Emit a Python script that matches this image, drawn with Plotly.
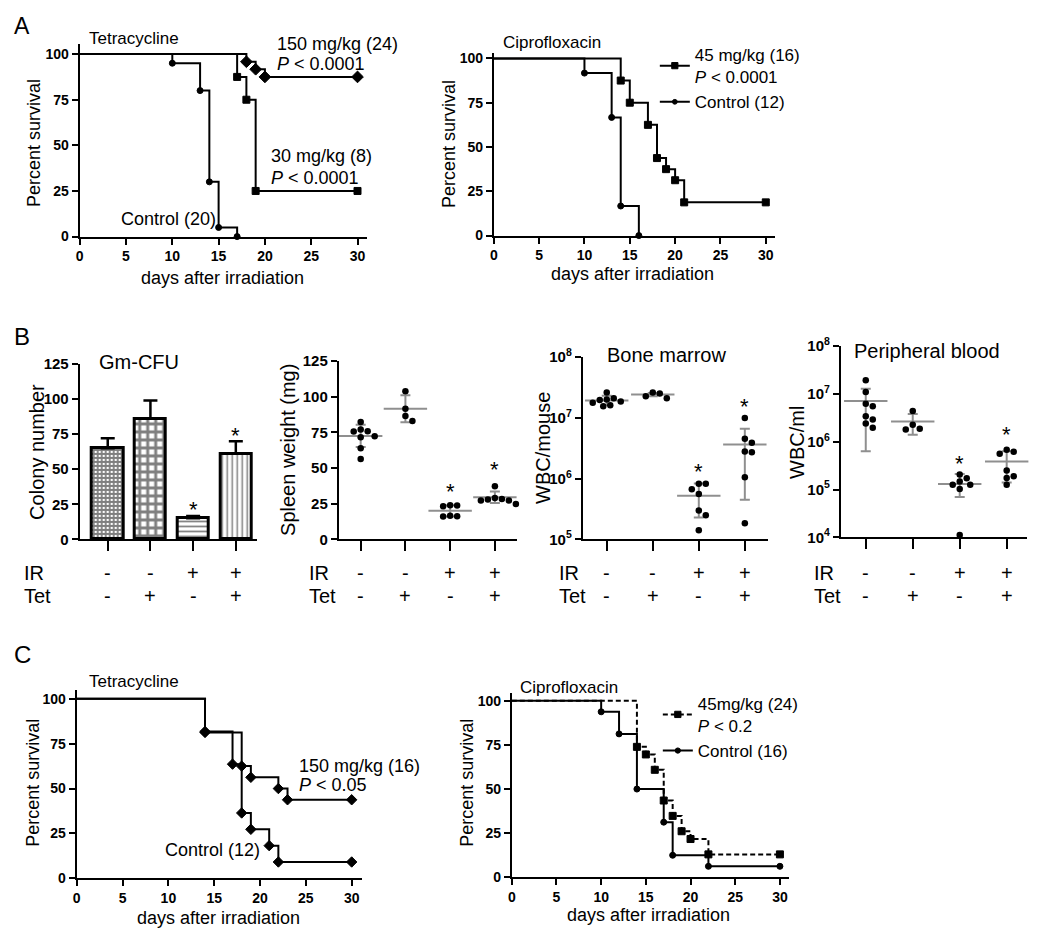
import numpy as np
import plotly.graph_objects as go

W, H = 1050, 934
FONT = "Liberation Sans"
GRAY = "#8f8f8f"

# ---------------- data ----------------
# Panel A – Tetracycline (Kaplan-Meier steps: event day, survival after event)
a_tet150_days = [18, 19, 20, 30]
a_tet150_surv = [95.8, 91.7, 87.5, 87.5]
a_tet30_days = [17, 18, 19, 30]
a_tet30_surv = [87.5, 75.0, 25.0, 25.0]
a_tetctl_days = [10, 13, 14, 15, 17]
a_tetctl_surv = [95.0, 80.0, 30.0, 5.0, 0.0]
# Panel A – Ciprofloxacin
a_cip45_days = [14, 15, 17, 18, 19, 20, 21, 30]
a_cip45_surv = [87.5, 75.0, 62.5, 43.75, 37.5, 31.25, 18.75, 18.75]
a_cipctl_days = [10, 13, 14, 16]
a_cipctl_surv = [91.7, 66.7, 16.7, 0.0]
# Panel C – Tetracycline
c_tet150_days = [14, 18, 19, 22, 23, 30]
c_tet150_surv = [81.25, 62.5, 56.25, 50.0, 43.75, 43.75]
c_tetctl_days = [14, 17, 18, 19, 21, 22, 30]
c_tetctl_surv = [81.8, 63.6, 36.4, 27.3, 18.2, 9.1, 9.1]
# Panel C – Ciprofloxacin
c_cip45_days = [14, 15, 16, 17, 18, 19, 20, 22, 30]
c_cip45_surv = [73.9, 69.6, 60.9, 43.5, 34.8, 26.1, 21.7, 13.0, 13.0]
c_cipctl_days = [10, 12, 14, 17, 18, 22, 30]
c_cipctl_surv = [93.75, 81.25, 50.0, 31.25, 12.5, 6.25, 6.25]

# Panel B
groups = [1, 2, 3, 4]
ir_signs = ["-", "-", "+", "+"]
tet_signs = ["-", "+", "-", "+"]

colony_mean = [65, 86, 15, 61]
colony_err = [7, 13, 1.7, 9]

spleen_pts = [
    [82.2, 77.0, 75.8, 75.6, 72.3, 71.6, 63.9, 56.4],
    [103.7, 91.5, 86.4, 82.9],
    [24.0, 23.7, 23.2, 16.6, 16.3, 16.1],
    [37.2, 29.0, 28.3, 27.9, 27.2, 27.2, 24.8],
]
spleen_mean = [72.5, 91.5, 20.0, 29.5]
spleen_hi = [80.3, 101.0, 24.0, 33.5]
spleen_lo = [64.7, 82.0, 16.0, 25.5]

marrow_pts = [
    [2.6e7, 2.1e7, 2.0e7, 1.95e7, 1.85e7, 1.77e7, 1.6e7, 1.55e7],
    [2.6e7, 2.5e7, 2.25e7, 2.1e7],
    [8.2e5, 8.2e5, 6.7e5, 5.6e5, 3.0e5, 2.5e5, 1.42e5],
    [9.9e6, 4.5e6, 3.9e6, 2.8e6, 2.7e6, 1.05e6, 1.84e5],
]
marrow_mean = [1.93e7, 2.4e7, 5.2e5, 3.64e6]
marrow_hi = [2.3e7, 2.55e7, 8.3e5, 6.6e6]
marrow_lo = [1.62e7, 2.25e7, 2.3e5, 4.5e5]

blood_pts = [
    [1.91e7, 1.09e7, 6.2e6, 5.5e6, 3.4e6, 2.9e6, 2.4e6, 1.95e6],
    [4.35e6, 2.25e6, 1.85e6, 1.8e6],
    [2.06e5, 1.72e5, 1.48e5, 1.26e5, 1.26e5, 1.02e5, 1.12e4],
    [6.75e5, 6.17e5, 5.56e5, 2.49e5, 1.89e5, 1.75e5, 1.26e5],
]
blood_mean = [7.05e6, 2.65e6, 1.31e5, 3.85e5]
blood_hi = [1.28e7, 3.8e6, 2.1e5, 6.3e5]
blood_lo = [6.3e5, 1.4e6, 7.0e4, 1.4e5]

log_ticks = [1e4, 1e5, 1e6, 1e7, 1e8]
log_labels = ["10<sup>4</sup>", "10<sup>5</sup>", "10<sup>6</sup>", "10<sup>7</sup>", "10<sup>8</sup>"]
surv_ticks = [0, 25, 50, 75, 100]
day_ticks = [0, 5, 10, 15, 20, 25, 30]
bar_ticks = [0, 25, 50, 75, 100, 125]

# ---------------- layout geometry (target pixels on the page) ----------------
panels = {
    "aL": dict(n=1, px=(80, 367), py=(235, 43), xr=[0, 31], yr=[0, 105.5]),
    "aR": dict(n=2, px=(494, 775), py=(234, 52), xr=[0, 31], yr=[0, 103]),
    "b1": dict(n=3, px=(80, 257), py=(537, 362), xr=[0.344, 4.49], yr=[0, 125]),
    "b2": dict(n=4, px=(339, 517), py=(537, 359), xr=[0.51, 4.49], yr=[0, 125]),
    "b3": dict(n=5, px=(583, 768), py=(537, 355), xr=[0.48, 4.5], yr=[5, 8], log=True),
    "b4": dict(n=6, px=(841, 1027), py=(535, 344), xr=[0.47, 4.43], yr=[4, 8], log=True),
    "cL": dict(n=7, px=(77, 362), py=(875, 687), xr=[0, 31.1], yr=[0, 105]),
    "cR": dict(n=8, px=(512, 789), py=(874, 690), xr=[0, 31], yr=[0, 104.5]),
}


def ax(key):
    n = panels[key]["n"]
    return ("x" if n == 1 else f"x{n}"), ("y" if n == 1 else f"y{n}")


# page pixel -> paper fraction (compensates the page offset of the html body)
def PX(x):
    return ((x - 12.3) / 0.996) / W


def PY(y):
    return 1 - ((y - 18.0) / 0.977) / H


fig = go.Figure()


def km(key, days, surv, symbol, size, dash="solid", name=None, legend=None):
    xa, ya = ax(key)
    if name is not None:
        kw = dict(name=name, legend=legend, showlegend=True)
    else:
        kw = dict(showlegend=False)
    fig.add_trace(go.Scatter(
        x=[0] + list(days), y=[100] + list(surv), xaxis=xa, yaxis=ya,
        mode="lines+markers",
        line=dict(color="black", width=2, shape="hv", dash=dash),
        marker=dict(symbol=symbol, size=[0] + [size] * len(days), color="black",
                    opacity=1, line=dict(color="black", width=1)),
        cliponaxis=False, **kw))


# Panel A
km("aL", a_tet150_days, a_tet150_surv, "diamond", 9)
km("aL", a_tet30_days, a_tet30_surv, "square", 7)
km("aL", a_tetctl_days, a_tetctl_surv, "circle", 6)
km("aR", a_cip45_days, a_cip45_surv, "square", 7,
   name="45 mg/kg (16)<br><i>P</i> &lt; 0.0001", legend="legend")
km("aR", a_cipctl_days, a_cipctl_surv, "circle", 6,
   name="Control (12)", legend="legend")
# Panel C
km("cL", c_tet150_days, c_tet150_surv, "diamond", 8)
km("cL", c_tetctl_days, c_tetctl_surv, "diamond", 8)
km("cR", c_cip45_days, c_cip45_surv, "square", 7, dash="5px,3px",
   name="45mg/kg (24)<br><i>P</i> &lt; 0.2", legend="legend2")
km("cR", c_cipctl_days, c_cipctl_surv, "circle", 6,
   name="Control (16)", legend="legend2")

# Panel B1 bars
xa, ya = ax("b1")
fig.add_trace(go.Bar(
    x=groups, y=colony_mean, xaxis=xa, yaxis=ya, width=0.73, showlegend=False,
    marker=dict(color="white", line=dict(color="black", width=3),
                pattern=dict(shape=["+", "+", "-", "|"], size=[4, 8, 5, 5],
                             solidity=[0.7, 0.6, 0.35, 0.3],
                             fgcolor="black", bgcolor="white", fillmode="overlay")),
    error_y=dict(type="data", symmetric=False, array=colony_err,
                 arrayminus=[0, 0, 0, 0], color="black", thickness=2.5, width=7),
))


def swarm(values, key, d=7.0):
    p = panels[key]
    ppu = (p["py"][0] - p["py"][1]) / (p["yr"][1] - p["yr"][0])
    ppc = (p["px"][1] - p["px"][0]) / (p["xr"][1] - p["xr"][0])
    xs, ys = [], []
    for gi, vals in zip(groups, values):
        placed = []
        for v in vals:
            py = (np.log10(v) if p.get("log") else v) * ppu
            cands = [0.0]
            for i in range(1, 12):
                cands += [i * d * 0.5, -i * d * 0.5]
            for c in cands:
                if all((c - qx) ** 2 + (py - qy) ** 2 >= d * d * 0.92 for qx, qy in placed):
                    break
            placed.append((c, py))
            xs.append(gi + c / ppc)
            ys.append(v)
    return xs, ys


def dotplot(key, pts, mean, hi, lo):
    xa, ya = ax(key)
    fig.add_trace(go.Scatter(
        x=groups, y=mean, xaxis=xa, yaxis=ya, mode="markers", showlegend=False,
        marker=dict(symbol="line-ew", size=31, color=GRAY, line=dict(color=GRAY, width=2)),
        error_y=dict(type="data", symmetric=False,
                     array=[h - m for h, m in zip(hi, mean)],
                     arrayminus=[m - l for m, l in zip(mean, lo)],
                     color=GRAY, thickness=2, width=5),
        cliponaxis=False))
    xs, ys = swarm(pts, key)
    fig.add_trace(go.Scatter(
        x=xs, y=ys, xaxis=xa, yaxis=ya, mode="markers", showlegend=False,
        marker=dict(symbol="circle", size=6.5, color="black"), cliponaxis=False))


dotplot("b2", spleen_pts, spleen_mean, spleen_hi, spleen_lo)
dotplot("b3", marrow_pts, marrow_mean, marrow_hi, marrow_lo)
dotplot("b4", blood_pts, blood_mean, blood_hi, blood_lo)

# ---------------- axes ----------------
layout_axes = {}
for key, p in panels.items():
    n = p["n"]
    sx = "xaxis" if n == 1 else f"xaxis{n}"
    sy = "yaxis" if n == 1 else f"yaxis{n}"
    common = dict(showline=True, linecolor="black", linewidth=2, ticks="outside",
                  tickcolor="black", tickwidth=2, showgrid=False, zeroline=False,
                  fixedrange=True,
                  tickfont=dict(family=FONT, size=14, color="black", weight="bold"))
    ya_id = "y" if n == 1 else f"y{n}"
    xa_id = "x" if n == 1 else f"x{n}"
    xdict = dict(common, domain=[PX(p["px"][0]), PX(p["px"][1])], range=p["xr"],
                 anchor=ya_id)
    ydict = dict(common, domain=[PY(p["py"][0]), PY(p["py"][1])], anchor=xa_id)
    if key.startswith("b"):
        xdict.update(tickvals=groups, showticklabels=False, ticklen=10)
        if p.get("log"):
            ydict.update(type="log", range=p["yr"], tickvals=log_ticks,
                         ticktext=log_labels, ticklen=6)
        else:
            ydict.update(range=p["yr"], tickvals=bar_ticks, ticklen=6)
        ydict["tickfont"] = dict(family=FONT, size=15, color="black", weight="bold")
    else:
        xdict.update(tickvals=day_ticks, ticklen=6)
        ydict.update(range=p["yr"], tickvals=surv_ticks, ticklen=6)
    layout_axes[sx] = xdict
    layout_axes[sy] = ydict

fig.update_layout(**layout_axes)

# ---------------- text ----------------
ann = []


def T(x, y, text, size=18, xanchor="left", angle=0, xref="paper"):
    ann.append(dict(x=x if xref != "paper" else PX(x), y=PY(y), xref=xref, yref="paper",
                    text=text, showarrow=False, xanchor=xanchor, yanchor="middle",
                    textangle=angle, font=dict(family=FONT, size=size, color="black")))


# panel letters
T(12, 25, "A", 23)
T(12, 335, "B", 24)
T(12, 652, "C", 24)

# Panel A left
T(87, 37, "Tetracycline", 17)
T(275, 43, "150 mg/kg (24)")
T(275, 63, "<i>P</i> &lt; 0.0001")
T(269, 155, "30 mg/kg (8)")
T(269, 177, "<i>P</i> &lt; 0.0001")
T(119, 217, "Control (20)")
T(35, 142, "Percent survival", 18, "center", -90)
T(223, 276, "days after irradiation", 18, "center")
# Panel A right
T(501, 41, "Ciprofloxacin", 17)
T(450, 143, "Percent survival", 18, "center", -90)
T(633, 272, "days after irradiation", 18, "center")
# Panel C left
T(87, 679, "Tetracycline", 17)
T(297, 763, "150 mg/kg (16)")
T(297, 782, "<i>P</i> &lt; 0.05")
T(163, 847, "Control (12)")
T(33, 780, "Percent survival", 18, "center", -90)
T(219, 915, "days after irradiation", 18, "center")
# Panel C right
T(518, 685, "Ciprofloxacin", 17)
T(467, 780, "Percent survival", 18, "center", -90)
T(649, 912, "days after irradiation", 18, "center")

# Panel B titles
T(97, 360, "Gm-CFU", 20)
T(37, 450, "Colony number", 20, "center", -90)
T(288, 448, "Spleen weight (mg)", 20, "center", -90)
T(605, 353, "Bone marrow", 20)
T(543, 446, "WBC/mouse", 20, "center", -90)
T(852, 349, "Peripheral blood", 20)
T(797, 440, "WBC/ml", 20, "center", -90)

# IR / Tet rows
row_label_x = {"b1": 22, "b2": 307, "b3": 557, "b4": 812}
for key in ["b1", "b2", "b3", "b4"]:
    xa, _ = ax(key)
    T(row_label_x[key], 570, "IR", 20)
    T(row_label_x[key], 593, "Tet", 20)
    for g, s1, s2 in zip(groups, ir_signs, tet_signs):
        T(g, 570, s1, 20, "center", xref=xa)
        T(g, 593, s2, 20, "center", xref=xa)

# asterisks
stars = {"b1": [(3, 502), (4, 428)], "b2": [(3, 484), (4, 462)],
         "b3": [(3, 464), (4, 399)], "b4": [(3, 456), (4, 427)]}
for key, lst in stars.items():
    xa, _ = ax(key)
    for g, y in lst:
        T(g, y + 5, "*", 22, "center", xref=xa)

fig.update_layout(
    annotations=ann,
    width=W, height=H, margin=dict(l=0, r=0, t=0, b=0),
    paper_bgcolor="white", plot_bgcolor="white",
    font=dict(family=FONT, color="black"),
    bargap=0,
    legend=dict(x=PX(655), y=PY(36), xanchor="left", yanchor="top",
                bgcolor="rgba(0,0,0,0)", font=dict(family=FONT, size=17, color="black"),
                itemwidth=30, tracegroupgap=0, itemclick=False),
    legend2=dict(x=PX(658), y=PY(683), xanchor="left", yanchor="top",
                 bgcolor="rgba(0,0,0,0)", font=dict(family=FONT, size=17, color="black"),
                 itemwidth=30, tracegroupgap=0, itemclick=False),
)

fig.write_html("out.html")
